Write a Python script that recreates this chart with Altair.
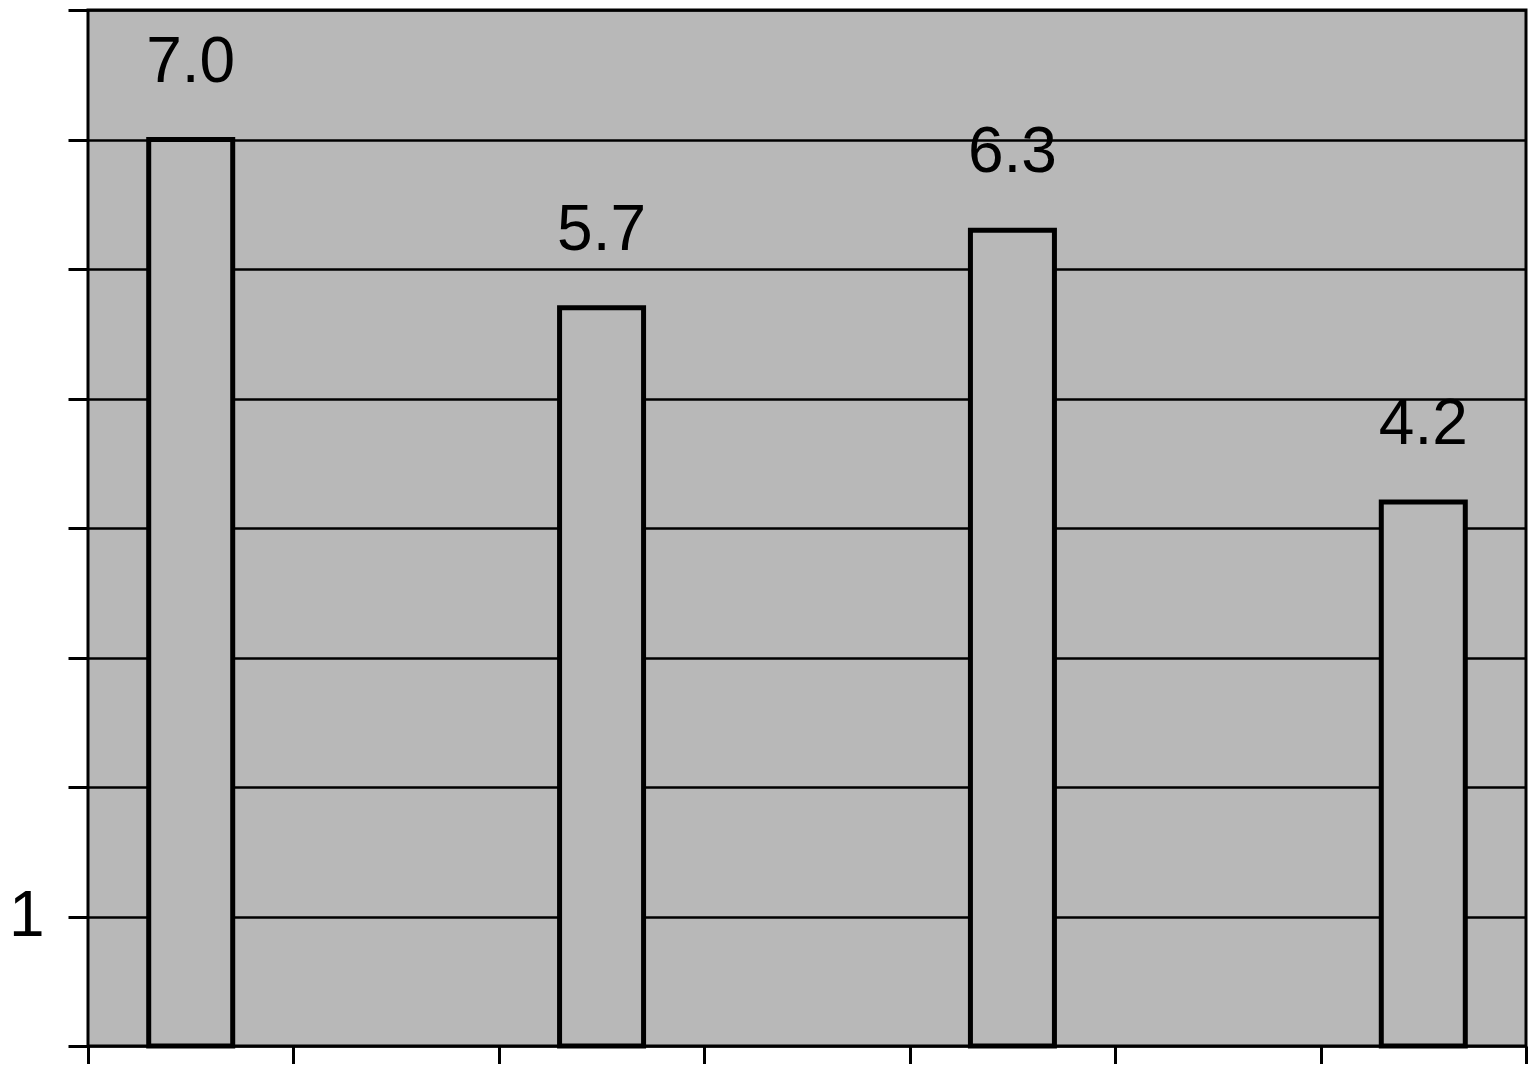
import altair as alt
import pandas as pd

# data
slot_positions = [0.5, 2.5, 4.5, 6.5]   # bar centres in x-slot units (7 slots)
values = [7.0, 5.7, 6.3, 4.2]
value_labels = ["7.0", "5.7", "6.3", "4.2"]
y_ticks = [0, 1, 2, 3, 4, 5, 6, 7, 8]
x_ticks = [0, 1, 2, 3, 4, 5, 6, 7]

df = pd.DataFrame({"pos": slot_positions, "value": values, "label": value_labels})

FONT = "Liberation Sans"
BG = "#b8b8b8"

x = alt.X(
    "pos:Q",
    scale=alt.Scale(domain=[0, 7], nice=False, zero=False, padding=0),
    axis=alt.Axis(
        values=x_ticks, labels=False, title=None, grid=False, domain=False,
        ticks=True, tickSize=18, tickWidth=3, tickColor="black",
    ),
)
y = alt.Y(
    "value:Q",
    scale=alt.Scale(domain=[0, 8], nice=False),
    axis=alt.Axis(
        values=y_ticks, title=None, domain=False,
        grid=True, gridColor="black", gridWidth=2.5, gridOpacity=1,
        ticks=True, tickSize=20, tickWidth=3, tickColor="black",
        labelExpr="datum.value == 1 ? '1' : ''",
        labelFont=FONT, labelFontSize=64, labelColor="black", labelPadding=24,
    ),
)

bars = alt.Chart(df).mark_bar(
    size=84, fill=BG, stroke="black", strokeWidth=5
).encode(x=x, y=y)

texts = alt.Chart(df).mark_text(
    font=FONT, fontSize=64, color="black", dy=-58, baseline="alphabetic", align="center"
).encode(x="pos:Q", y="value:Q", text="label:N")

chart = (
    alt.layer(bars, texts)
    .properties(width=1438, height=1036, autosize=alt.AutoSizeParams(type="none"),
                padding={"left": 80, "top": 2, "right": 2, "bottom": 18},
                background="white")
    .configure_view(fill=BG, stroke="black", strokeWidth=3)
)

chart.save("out.html", embed_options={"renderer": "svg", "actions": False})
